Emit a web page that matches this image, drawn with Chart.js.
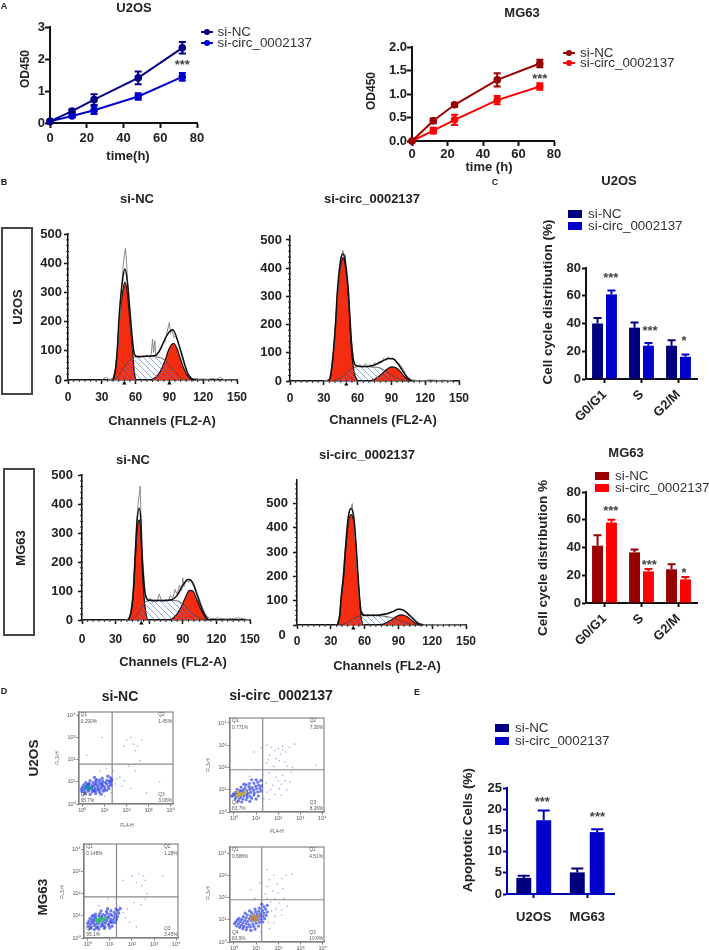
<!DOCTYPE html>
<html><head><meta charset="utf-8">
<script src="https://cdn.jsdelivr.net/npm/chart.js@4"></script>
<style>
html,body{margin:0;padding:0;background:#fff}
#page{position:relative;width:709px;height:950px;overflow:hidden;font-family:"Liberation Sans",Arial,sans-serif;color:#222;filter:blur(.3px)}
canvas{position:absolute}
.t{position:absolute;white-space:nowrap;line-height:1}
.box{position:absolute;border:2px solid #4a4444;box-sizing:border-box}
.sw{position:absolute}
</style></head><body><div id="page"></div>
<script>
// ---------- Panel A: growth curves ----------
const timeH=[0,12,24,48,72];
const aU2nc=[0.05,0.37,0.73,1.41,2.35], aU2ncErr=[0,0.06,0.17,0.2,0.18];
const aU2ci=[0.05,0.22,0.40,0.83,1.44], aU2ciErr=[0,0.03,0.12,0.1,0.12];
const aMGnc=[0,0.43,0.77,1.30,1.65], aMGncErr=[0,0.05,0.04,0.14,0.08];
const aMGci=[0,0.22,0.45,0.87,1.16], aMGciErr=[0,0.06,0.11,0.09,0.07];
const nameNC='si-NC', nameCI='si-circ_0002137';
// ---------- Panel B: cell-cycle histograms [channel,count] ----------
const b1G1=[[40,0],[42,30],[43.8,100],[45.5,200],[48.5,300],[50.5,335],[52.6,300],[55,200],[57.4,100],[58.5,40],[60,0]];
const b1S=[[40,0],[45,15],[50,45],[55,70],[58,78],[65,80],[75,80],[82,76],[87,65],[92,40],[97,20],[102,5],[105,0]];
const b1G2=[[73,0],[78,10],[82,30],[86,65],[89,100],[92,122],[94,125],[97,105],[100,70],[103,38],[106,15],[109,3],[112,0]];
const b1Tot=[[40,0],[42,32],[43.8,108],[45.5,225],[48.5,345],[50.5,380],[52.6,340],[55,235],[57.4,130],[59,88],[62,80],[72,82],[78,85],[82,105],[86,140],[90,165],[93,172],[96,150],[100,100],[103,60],[106,25],[109,8],[112,0]];
const b1Raw=[[30,0],[32,6],[34,9],[36,3],[38,2],[40,8],[42,40],[44,100],[46,210],[48,340],[49,390],[50,430],[51,452],[52,400],[53,330],[54,280],[55,240],[56,170],[57,135],[58,100],[60,78],[62,85],[64,75],[66,83],[68,80],[70,86],[72,78],[74,90],[75,140],[76,95],[77,135],[78,85],[80,95],[82,110],[84,125],[86,130],[88,165],[90,198],[91,160],[92,175],[94,145],[96,150],[98,125],[100,100],[102,80],[104,50],[106,25],[108,12],[110,5],[113,5],[116,3],[120,4],[124,2],[128,5],[132,3],[135,10],[138,2],[142,0],[150,0]];
const b2G1=[[34,0],[36,15],[38.5,100],[40.5,200],[42,300],[45,410],[47,437],[49,410],[51.8,300],[53.2,200],[54.7,100],[57,30],[60,0]];
const b2S=[[38,0],[44,8],[50,28],[55,45],[58,50],[65,51],[75,49],[80,46],[85,35],[90,22],[95,10],[100,3],[104,0]];
const b2G2=[[70,0],[75,6],[80,20],[85,38],[90,50],[94,47],[98,33],[102,14],[105,4],[108,0]];
const b2Tot=[[34,0],[36,16],[38.5,105],[40.5,210],[42,315],[45,430],[47,450],[49,425],[51.8,320],[53.2,225],[54.7,130],[57,62],[60,53],[65,51],[72,53],[78,62],[84,75],[88,80],[92,78],[96,60],[100,36],[104,12],[108,0]];
const b2Raw=[[30,0],[33,3],[35,8],[37,50],[39,120],[41,235],[43,345],[45,425],[46,450],[47,462],[48,445],[49,450],[50,390],[52,310],[54,170],[55,125],[56,90],[57,65],[58,60],[60,50],[62,58],[64,48],[66,55],[67,62],[69,50],[71,58],[73,52],[75,65],[77,60],[79,70],[81,64],[83,80],[85,72],[87,85],[89,78],[91,82],[93,72],[95,68],[97,60],[99,50],[101,38],[103,22],[105,12],[108,4],[112,2],[118,1],[125,4],[131,2],[137,3],[145,0]];
const b3G1=[[41.5,0],[44,30],[46,100],[47.5,200],[49,300],[51,345],[52.6,300],[53.5,200],[55,100],[57,25],[58.5,0]];
const b3S=[[44,0],[48,10],[52,35],[56,60],[58,66],[65,68],[75,68],[85,66],[90,55],[95,35],[100,18],[106,5],[112,0]];
const b3G2=[[78,0],[83,12],[88,40],[92,75],[96,102],[99,100],[102,75],[106,38],[110,10],[113,0]];
const b3Tot=[[41.5,0],[44,32],[46,110],[47.5,225],[49,335],[51,385],[52.6,340],[53.5,245],[55,140],[57,80],[60,68],[70,67],[80,70],[85,85],[90,120],[95,140],[99,128],[102,95],[106,50],[110,15],[113,0]];
const b3Raw=[[38,0],[41,3],[43,15],[45,70],[47,190],[49,340],[50,400],[51,430],[52,462],[53,290],[54,210],[55,170],[56,110],[57,85],[59,62],[61,75],[63,60],[65,68],[67,62],[69,90],[71,65],[73,62],[75,72],[77,66],[79,85],[81,75],[83,105],[85,88],[87,120],[89,100],[90,145],[91,115],[93,140],[95,130],[97,142],[99,120],[101,115],[103,90],[105,70],[107,48],[109,30],[111,15],[114,6],[118,5],[122,7],[128,4],[134,5],[140,7],[145,4],[150,1]];
const b4G1=[[36,0],[38,40],[39,100],[41.4,200],[43,300],[45.5,420],[48,455],[50.5,420],[52.6,300],[54,200],[55.6,100],[57,30],[58.5,0]];
const b4S=[[38,0],[44,8],[50,28],[55,37],[59,38],[70,38],[78,36],[84,30],[90,20],[96,10],[102,3],[106,0]];
const b4G2=[[74,0],[79,8],[84,22],[89,37],[93,42],[97,36],[101,22],[105,8],[109,0]];
const b4Tot=[[36,0],[38,42],[39,105],[41.4,210],[43,315],[45.5,445],[48,480],[50.5,440],[52.6,320],[54,215],[55.6,110],[57,52],[60,40],[70,40],[78,44],[85,55],[90,65],[94,62],[98,48],[103,25],[108,6],[112,0]];
const b4Raw=[[34,0],[36,5],[38,50],[40,150],[42,270],[44,380],[46,460],[47,475],[48,478],[49,500],[50,450],[51,390],[52,330],[53,250],[55,125],[57,60],[59,44],[61,40],[63,44],[65,39],[68,42],[71,38],[74,44],[77,47],[80,46],[83,52],[86,58],[89,62],[91,68],[93,62],[95,60],[97,55],[99,48],[102,35],[105,20],[108,8],[112,2],[118,1],[125,2],[135,1],[150,0]];
const chTicks=[0,30,60,90,120,150], countTicks=[0,100,200,300,400,500];
// ---------- Panel C: cell-cycle bars ----------
const phases=['G0/G1','S','G2/M'];
const cU2nc=[40,37,24], cU2ncTop=[44,40.7,28];
const cU2ci=[61,24,16], cU2ciTop=[63.7,26,17.7];
const cMGnc=[41.3,36.5,24.3], cMGncTop=[48.8,38.5,28];
const cMGci=[58,22.8,17], cMGciTop=[60,24.5,18.7];
// ---------- Panel E: apoptosis bars ----------
const cells=['U2OS','MG63'];
const eNC=[3.8,5.1], eNCtop=[4.3,6];
const eCI=[17.4,14.6], eCItop=[19.7,15.3];
// ---------- Panel D: flow cytometry events, [log10 FL4-H, log10 FL3-H] ----------
const d1Sparse=[[2.0,2.9],[2.3,2.7],[2.5,2.6],[2.2,3.0],[2.7,2.9],[2.4,2.4],[1.9,2.6],[0.9,3.0],[0.2,2.2],[2.6,1.95],[2.1,1.7],[2.4,1.5],[1.4,1.5],[1.7,1.2],[1.5,0.9],[1.8,0.8],[2.2,0.7],[1.3,0.5],[1.1,1.6],[0.8,1.5],[1.0,0.35],[2.9,0.5],[3.5,1.0],[1.55,1.15],[1.9,1.05],[1.2,1.3]];
const d1Dense=[[.1,.46],[.35,.43],[.6,.47],[.85,.44],[-.02,.56],[.12,.53],[.27,.58],[.44,.54],[.6,.57],[.78,.53],[.95,.58],[1.1,.62],[-.05,.66],[.05,.63],[.18,.67],[.3,.64],[.42,.68],[.55,.63],[.7,.66],[.85,.69],[1,.64],[1.2,.7],[0,.76],[.1,.73],[.22,.77],[.33,.74],[.46,.78],[.58,.73],[.72,.76],[.88,.79],[1.02,.74],[1.18,.8],[1.3,.85],[.06,.86],[.2,.84],[.3,.88],[.44,.83],[.56,.87],[.68,.84],[.82,.88],[.95,.83],[1.1,.9],[1.25,.94],[.15,.96],[.3,.93],[.48,.97],[.62,.94],[.76,.98],[.9,.93],[1.05,.97],[1.22,1.03],[1.33,1.1],[.35,1.06],[.6,1.04],[.78,1.08],[.92,1.03],[1.12,1.07],[1.28,1.18],[.55,1.2],[.9,1.16],[1.15,1.25],[1.3,1.02],[.5,.6],[.75,.62],[.25,.9],[.65,1.1]];
const d1Core=[[.2,.72],[.28,.78],[.35,.7],[.15,.78],[.42,.74],[.3,.66]];
const d2Sparse=[[2.3,2.9],[2.5,2.8],[2.6,2.6],[2.0,2.8],[1.6,2.6],[2.2,2.5],[2.45,2.35],[3.4,2.8],[2.7,2.0],[2.6,1.75],[2.4,1.5],[2.1,1.6],[1.8,1.3],[1.6,1.15],[1.7,0.9],[1.9,0.7],[2.2,0.5],[1.45,1.4],[1.3,0.4],[0.9,1.75],[0.5,1.45]];
const d2Dense=[[.1,.42],[.3,.38],[.5,.4],[.75,.43],[1,.45],[.02,.53],[.15,.5],[.3,.55],[.45,.5],[.6,.53],[.78,.5],[.95,.56],[1.1,.53],[.0,.66],[.12,.63],[.25,.67],[.38,.62],[.5,.66],[.65,.62],[.8,.67],[.95,.63],[1.12,.68],[1.25,.7],[.05,.76],[.18,.74],[.3,.78],[.42,.73],[.55,.77],[.7,.73],[.85,.78],[1,.74],[1.15,.8],[1.3,.83],[.1,.88],[.22,.85],[.35,.89],[.48,.84],[.6,.88],[.75,.84],[.9,.89],[1.05,.85],[1.2,.92],[1.35,.96],[.2,.98],[.35,.96],[.5,1],[.65,.95],[.8,1],[.95,.96],[1.1,1.02],[1.25,1.05],[1.4,1.12],[.35,1.08],[.55,1.1],[.7,1.06],[.88,1.11],[1.02,1.08],[1.2,1.16],[1.38,1.25],[.6,1.22],[.85,1.2],[1.05,1.23],[1.28,1.3],[1.48,1.33],[.9,1.32],[.4,.46],[.7,.56],[1.05,.72],[.25,1.02],[.58,.95]];
const d2Core=[[.4,.8],[.5,.86],[.6,.78],[.7,.86],[.55,.92],[.45,.72],[.65,.72],[.8,.9]];
const d3Sparse=[[1.5,3.0],[1.7,2.9],[2.0,2.85],[2.2,2.8],[2.5,2.9],[2.75,3.05],[1.6,2.55],[1.9,2.4],[2.1,2.6],[2.3,2.25],[1.45,2.2],[2.65,2.0],[3.7,2.1],[0.9,2.7],[1.25,2.9],[1.8,2.05],[2.4,2.05],[2.6,1.8],[2.2,1.65],[1.9,1.55],[1.6,1.75],[1.45,1.3],[1.75,1.2],[2.05,1.05],[2.3,1.4],[2.55,1.35],[1.5,.9],[1.85,.8],[2.15,.75],[2.4,1.0],[1.35,.6],[1.6,.55],[1.9,1.9],[2.15,1.25],[1.65,1.0],[2.0,1.4],[1.3,1.7],[1.55,2.35],[2.05,2.3],[2.35,2.7],[1.05,1.9],[.7,1.6],[2.2,2.95],[1.85,2.75]];
const d3Dense=[[-.05,.72],[.05,.58],[.2,.5],[.35,.45],[.55,.55],[.72,.48],[-.02,.82],[.1,.68],[.25,.62],[.4,.58],[.6,.66],[.8,.62],[1,.58],[.05,.78],[.18,.74],[.3,.7],[.45,.72],[.58,.76],[.72,.72],[.9,.76],[1.1,.72],[.08,.9],[.22,.85],[.35,.82],[.48,.88],[.62,.84],[.75,.88],[.92,.86],[1.08,.9],[1.22,.94],[.15,1.02],[.28,.96],[.42,1.0],[.58,.96],[.72,1.02],[.88,.98],[1.02,1.04],[1.18,1.06],[.32,1.12],[.5,1.08],[.68,1.14],[.82,1.1],[.98,1.16],[1.12,1.2],[1.25,1.18],[.45,1.25],[.7,1.28],[.9,1.3],[1.08,1.34],[1.22,1.42],[.8,1.45],[-.12,.72],[.12,.82],[.35,.92],[.55,1.22],[1.0,1.45]];
const d3Core=[[.12,.75],[.2,.82],[.28,.76],[.35,.85],[.22,.68],[.45,.8],[.52,.9],[.15,.9]];
const d4Sparse=[[2.6,3.05],[2.35,3.0],[2.15,2.85],[1.8,3.0],[1.5,3.25],[1.6,2.8],[1.95,2.6],[2.2,2.4],[1.75,2.3],[1.5,2.5],[2.0,2.2],[1.85,1.95],[2.25,1.95],[1.5,1.95],[1.15,2.65],[.75,2.35],[.95,1.95],[1.65,1.8],[2.05,1.75],[2.4,1.6],[2.15,1.45],[1.9,1.5],[1.7,1.4],[2.15,1.2],[1.85,1.15],[1.55,.9],[1.8,.85],[1.6,.6],[1.2,.45],[.85,.5],[1.4,2.15]];
const d4Dense=[[.02,.82],[.12,.72],[.25,.66],[.4,.6],[.55,.55],[.75,.52],[.95,.58],[.08,.9],[.2,.82],[.32,.75],[.45,.7],[.6,.66],[.75,.68],[.9,.7],[1.1,.72],[.15,.98],[.28,.92],[.4,.85],[.55,.82],[.68,.78],[.85,.82],[1,.85],[1.15,.88],[1.3,.9],[.22,1.06],[.35,1.02],[.48,.96],[.62,.93],[.78,.96],[.92,.98],[1.08,1.0],[1.22,1.02],[1.38,1.05],[.42,1.14],[.55,1.08],[.7,1.05],[.85,1.08],[1,1.12],[1.15,1.14],[1.3,1.16],[1.45,1.2],[.6,1.22],[.75,1.18],[.9,1.22],[1.05,1.24],[1.2,1.26],[1.35,1.3],[1.5,1.35],[.8,1.32],[.98,1.35],[1.12,1.38],[1.28,1.42],[1.42,1.48],[.95,1.48],[1.15,1.52],[1.35,1.58],[1.5,1.65],[1.25,1.7],[.7,1.4],[.5,1.3]];
const d4Core=[[.75,1.05],[.85,1.12],[.95,1.05],[1.05,1.1],[.9,1.18],[.8,.98],[1.1,1.18],[.98,.95]];
const dExpTicks=[0,1,2,3,4], dExpLabels=['10⁰','10¹','10²','10³','10⁴'];
const d1Q=['0.290%','1.45%','3.08%','95.7%'],d2Q=['0.148%','1.28%','3.45%','95.1%'],d3Q=['0.771%','7.26%','8.26%','83.7%'],d4Q=['0.688%','4.51%','10.9%','83.9%'];
const d1Gate=[1.35,1.8],d2Gate=[1.3,1.85],d3Gate=[1.3,1.9],d4Gate=[1.25,1.9];

// ---------- helpers ----------
const page=document.getElementById('page');
const FONT='"Liberation Sans",Arial,sans-serif';
const KEY=13.4;
Chart.defaults.font.family=FONT; Chart.defaults.color='#222';
Chart.defaults.animation=false; Chart.defaults.responsive=false;
Chart.defaults.plugins.legend.display=false; Chart.defaults.plugins.tooltip.enabled=false;
function T(s,x,y,o={}){const d=document.createElement('div');d.className='t';d.textContent=s;
 d.style.left=x+'px';d.style.top=y+'px';d.style.fontSize=(o.size||13)+'px';d.style.fontWeight=o.weight||'bold';
 if(o.color)d.style.color=o.color;
 const tx=o.ha==='l'?'0':'-50%';d.style.transform=`translate(${tx},-50%)`+(o.rot?` rotate(${o.rot}deg)`:'');
 page.appendChild(d);}
function box(x0,y0,x1,y1){const d=document.createElement('div');d.className='box';d.style.cssText+=`left:${x0}px;top:${y0}px;width:${x1-x0}px;height:${y1-y0}px`;page.appendChild(d);}
function swatch(x,y,w,h,c){const d=document.createElement('div');d.className='sw';d.style.cssText+=`left:${x}px;top:${y}px;width:${w}px;height:${h}px;background:${c}`;page.appendChild(d);}
function lineKey(x,y,c,name){swatch(x,y-1,12,2,c);const d=document.createElement('div');d.className='sw';d.style.cssText+=`left:${x+3}px;top:${y-3}px;width:6px;height:6px;border-radius:50%;background:${c}`;page.appendChild(d);T(name,x+17,y,{size:KEY,weight:'normal',ha:'l',color:'#333'});}
function barKey(x,y,c,name,tx){swatch(x,y-4,14,8,c);T(name,tx,y,{size:KEY,weight:'normal',ha:'l',color:'#333'});}
const M=60;
const fixY=s=>{s.width=M},fixX=s=>{s.height=M};
function mk(r,cfg,blur){const c=document.createElement('canvas');c.width=r[2]-r[0]+2*M;c.height=r[3]-r[1]+2*M;
 c.style.left=(r[0]-M)+'px';c.style.top=(r[1]-M)+'px';if(blur)c.style.filter=`blur(${blur}px)`;page.appendChild(c);
 cfg.options=cfg.options||{};cfg.options.devicePixelRatio=1;cfg.options.maintainAspectRatio=false;cfg.options.responsive=false;
 cfg.options.layout={padding:{top:M,right:M,left:0,bottom:0}};
 return new Chart(c,cfg);}
function axis(o){const a={type:o.type||'linear',min:o.min,max:o.max,position:o.pos,offset:!!o.offset,afterFit:o.pos==='left'?fixY:fixX,
 border:{display:true,color:o.color||'#111',width:o.bw||2},
 grid:{display:true,drawOnChartArea:false,drawTicks:true,tickLength:o.len||5,tickColor:o.color||'#111',tickWidth:o.tw||2,offset:false},
 ticks:{stepSize:o.step,includeBounds:false,autoSkip:false,padding:o.pad===undefined?2:o.pad,minRotation:o.rot||0,maxRotation:o.rot||0,color:o.tc||'#222',
  font:{size:o.size||13,weight:o.weight||'bold',family:FONT},callback:o.cb||(function(v){return this.getLabelForValue(v)})}};
 if(o.at)a.afterBuildTicks=s=>{s.ticks=o.at.map(v=>({value:v}))};
 return a;}
const errPlugin={id:'errs',afterDatasetsDraw(ch){const y=ch.scales.y,ctx=ch.ctx;
 ch.data.datasets.forEach((ds,i)=>{if(!ds.errUp&&!ds.errTop)return;const meta=ch.getDatasetMeta(i);
  ctx.save();ctx.strokeStyle=ds.errColor;ctx.lineWidth=ds.errW||2;
  meta.data.forEach((el,k)=>{let hi,lo;const v=typeof ds.data[k]==='object'?ds.data[k].y:ds.data[k];if(ds.errTop){hi=ds.errTop[k];lo=v}else{if(!ds.errUp[k])return;hi=v+ds.errUp[k];lo=v-ds.errUp[k]}
   const a=y.getPixelForValue(hi),b=y.getPixelForValue(lo),w=ds.capW||3;
   ctx.beginPath();ctx.moveTo(el.x,a);ctx.lineTo(el.x,b);ctx.moveTo(el.x-w,a);ctx.lineTo(el.x+w,a);
   if(!ds.errTop){ctx.moveTo(el.x-w,b);ctx.lineTo(el.x+w,b)}ctx.stroke();});ctx.restore();});}};
const starPlugin={id:'stars',afterDatasetsDraw(ch,a,opts){if(!opts.items)return;const ctx=ch.ctx;ctx.save();ctx.fillStyle='#444';ctx.font='bold 13px '+FONT;ctx.textAlign='center';ctx.textBaseline='middle';
 opts.items.forEach(s=>ctx.fillText(s[2],ch.scales.x.getPixelForValue(s[0]),ch.scales.y.getPixelForValue(s[1])+2));ctx.restore();}};
const minorPlugin={id:'minor',afterDraw(ch,a,opts){if(!opts.x)return;const c=ch.ctx,xs=ch.scales.x,ys=ch.scales.y,A=ch.chartArea;c.save();c.strokeStyle='#333';c.lineWidth=1;c.beginPath();
 for(let v=0;v<=150;v+=opts.x){const p=xs.getPixelForValue(v);c.moveTo(p,A.bottom-1);c.lineTo(p,A.bottom+2)}
 for(let v=0;v<=ys.max;v+=opts.y){const p=ys.getPixelForValue(v);c.moveTo(A.left+1,p);c.lineTo(A.left-2,p)}
 c.stroke();c.restore();}};
const framePlugin={id:'frame',afterDraw(ch,a,opts){if(!opts.on)return;const c=ch.ctx,A=ch.chartArea;c.save();c.strokeStyle='#888';c.lineWidth=1.2;c.strokeRect(A.left,A.top,A.right-A.left,A.bottom-A.top);c.restore();}};
Chart.register(errPlugin,starPlugin,minorPlugin,framePlugin);
const pts=a=>a.map(p=>({x:p[0],y:p[1]}));
const zip=(xs,ys)=>ys.map((v,i)=>({x:xs[i],y:v}));

// ---------- Panel A ----------
function growth(r,yMax,yStep,nc,ncE,ci,ciE,cNC,cCI,star,yCb,xPad,yPad){
 const ds=(d,e,c)=>({data:zip(timeH,d),borderColor:c,backgroundColor:c,borderWidth:2,pointRadius:2.8,pointBackgroundColor:c,tension:0,errUp:e,errColor:c,errW:2,capW:3.5,clip:false});
 mk(r,{type:'line',data:{datasets:[ds(nc,ncE,cNC),ds(ci,ciE,cCI)]},
 options:{plugins:{stars:{items:[[72,star,'***']]}},scales:{
  x:axis({pos:'bottom',min:0,max:80,step:20,pad:xPad,cb:v=>v}),
  y:axis({pos:'left',min:0,max:yMax,step:yStep,pad:yPad,cb:yCb||(v=>v)})}}});}
growth([50,27,197,123.5],3,1,aU2nc,aU2ncErr,aU2ci,aU2ciErr,'#00008b','#0000cd',1.85,null,3,0);
growth([412,46.5,554,140.5],2,.5,aMGnc,aMGncErr,aMGci,aMGciErr,'#990000','#ff0000',1.35,v=>v.toFixed(1),1,0);
T('U2OS',134,7);T('MG63',522,12);
T('OD450',25,69,{size:12,rot:-90});T('OD450',371,91,{size:12,rot:-90});
T('time(h)',128,155);T('time (h)',489,166);
lineKey(200.5,32,'#00008b',nameNC);lineKey(200.5,43,'#0000cd',nameCI);
lineKey(563,53,'#990000',nameNC);lineKey(563,63,'#ff0000',nameCI);

// ---------- Panel B ----------
function hatch(){const c=document.createElement('canvas');c.width=c.height=6;const g=c.getContext('2d');g.strokeStyle='rgba(95,125,235,.7)';g.lineWidth=1;
 g.beginPath();g.moveTo(-1,-1);g.lineTo(7,7);g.moveTo(-1,5);g.lineTo(1,7);g.moveTo(5,-1);g.lineTo(7,1);g.stroke();return g.createPattern(c,'repeat');}
function hist(r,yMax,G1,S,G2,Tot,Raw,marks,xPad,yPad,hideZero){
 const smooth={cubicInterpolationMode:'monotone',pointRadius:0,clip:false};
 mk(r,{type:'line',data:{datasets:[
  {data:pts(G1),order:5,fill:'origin',backgroundColor:'#f42d10',borderColor:'#111',borderWidth:1.2,...smooth},
  {data:pts(G2),order:5,fill:'origin',backgroundColor:'#f42d10',borderColor:'#111',borderWidth:1.2,...smooth},
  {data:pts(S),order:4,fill:'origin',backgroundColor:hatch(),borderColor:'#444',borderWidth:.8,...smooth},
  {data:pts(Raw),order:3,borderColor:'#8a8a8a',borderWidth:1,pointRadius:0,tension:0,clip:false},
  {data:pts(Tot),order:2,borderColor:'#111',borderWidth:1.5,...smooth},
  {data:marks.map(m=>({x:m,y:-yMax*0.022})),order:1,showLine:false,pointStyle:'triangle',pointRadius:2.5,pointBackgroundColor:'#000',pointBorderWidth:0,clip:false}
 ]},options:{plugins:{minor:{x:5,y:20}},scales:{
  x:axis({pos:'bottom',min:0,max:150,at:chTicks,pad:xPad,len:4,bw:1.5,tw:1.5,size:12,cb:v=>v}),
  y:axis({pos:'left',min:0,max:yMax,at:countTicks,pad:yPad,len:4,bw:1.5,tw:1.5,size:13,cb:v=>(hideZero&&v===0)?'':v})}}});}
hist([68,234,237,380],500,b1G1,b1S,b1G2,b1Tot,b1Raw,[50,90],6,2,false);
hist([290,236,459,381],514,b2G1,b2S,b2G2,b2Tot,b2Raw,[50],6,4,false);
hist([81.7,474.7,250,620.3],500,b3G1,b3S,b3G2,b3Tot,b3Raw,[53],8,5,false);
hist([296.7,480,465.7,625],597,b4G1,b4S,b4G2,b4Tot,b4Raw,[50],5,5,true);
T('0',282,634);
T(nameNC,137,198);T(nameCI,372,198);T(nameNC,133,459);T(nameCI,367,454);
T('Channels (FL2-A)',162,420);T('Channels (FL2-A)',383,419);T('Channels (FL2-A)',173,661);T('Channels (FL2-A)',387,665);
box(1,227,33,395);box(3,468,35,636);
T('U2OS',17,307,{rot:-90});T('MG63',20,548,{rot:-90});

// ---------- Panel C and E bars ----------
function bars(r,labels,a,aTop,b,bTop,cA,cB,yMax,step,stars,o){
 const ds=(d,t,c)=>({data:d,backgroundColor:c,errTop:t,errColor:c,errW:2,capW:o.cap,categoryPercentage:o.cat,barPercentage:o.bar});
 mk(r,{type:'bar',data:{labels,datasets:[ds(a,aTop,cA),ds(b,bTop,cB)]},options:{plugins:{stars:{items:stars}},scales:{
  x:axis({type:'category',pos:'bottom',offset:true,rot:o.rot,pad:o.xPad,size:o.xSize||13,color:o.axis,len:4}),
  y:axis({pos:'left',min:0,max:yMax,step,pad:1,size:o.ySize||13,color:o.axis,cb:v=>v,len:4})}}});}
bars([585.7,268,697,379.3],phases,cU2nc,cU2ncTop,cU2ci,cU2ciTop,'#00007f','#0000cd',80,20,[[.17,74.2,'***'],[1.23,35.4,'***'],[2.15,28.7,'*']],{cat:.753,bar:.786,cap:4,rot:45,xPad:4,axis:'#111'});
bars([585.7,491.7,696.7,602.7],phases,cMGnc,cMGncTop,cMGci,cMGciTop,'#990000','#ff0000',80,20,[[.17,67.3,'***'],[1.21,28.8,'***'],[2.15,22.8,'*']],{cat:.753,bar:.786,cap:4,rot:45,xPad:4,axis:'#111'});
bars([506.7,788.3,614,894.3],cells,eNC,eNCtop,eCI,eCItop,'#00007f','#0000cd',25,5,[[.16,22,'***'],[1.19,18.5,'***']],{cat:.745,bar:.75,cap:6,rot:0,xPad:12,axis:'#0000b0'});
T('U2OS',619,180);T('MG63',626,452);
T('Cell cycle distribution (%)',548,302,{size:13.5,rot:-90});T('Cell cycle distribution %',543,558,{size:13.5,rot:-90});
T('Apoptotic Cells (%)',468,830,{size:13.5,rot:-90});
barKey(568,213.5,'#00007f',nameNC,588);barKey(568,226,'#0000cd',nameCI,588);
barKey(595,476,'#990000',nameNC,615);barKey(595,488,'#ff0000',nameCI,615);
barKey(495,728,'#00007f',nameNC,515);barKey(495,741,'#0000cd',nameCI,515);

// ---------- Panel D ----------
function flow(r,sparse,dense,core,gate,q,xMin,coreCol){
 const xMax=xMin+(r[2]-r[0])/22.25,yMax=(r[3]-r[1])/22.25;
 const dot=(a,c,rad)=>({data:pts(a),pointRadius:rad,backgroundColor:c,pointBackgroundColor:c,pointBorderWidth:0,showLine:false});
 const ln=(a)=>({data:pts(a),showLine:true,borderColor:'#888',borderWidth:1.2,pointRadius:0,clip:false});
 mk(r,{type:'scatter',data:{datasets:[
  {...dot(core,coreCol,1.4),order:1},{...dot(dense,'rgba(50,70,230,.72)',1.6),order:2},{...dot(sparse,'rgba(130,140,235,.75)',.8),order:3},
  {...ln([[gate[0],0],[gate[0],yMax]]),order:4},{...ln([[xMin,gate[1]],[xMax,gate[1]]]),order:4}]},
  options:{plugins:{frame:{on:true}},scales:{
  x:axis({pos:'bottom',min:xMin,max:xMax,at:dExpTicks,color:'#777',bw:1.2,tw:1,len:2.5,size:5.5,weight:'normal',tc:'#555',pad:1,cb:v=>dExpLabels[v]}),
  y:axis({pos:'left',min:0,max:yMax,at:dExpTicks,color:'#777',bw:1.2,tw:1,len:2.5,size:5.5,weight:'normal',tc:'#555',pad:1,cb:v=>dExpLabels[v]})}}},.55);
 const s={size:4.8,weight:'normal',ha:'l',color:'#555'},L=r[0]+2,R=r[2]-15;
 T('Q1',L,r[1]+3,s);T(q[0],L,r[1]+10,s);T('Q2',R,r[1]+3,s);T(q[1],R,r[1]+10,s);
 T('Q4',L,r[3]-9,s);T(q[3],L,r[3]-3,s);T('Q3',R,r[3]-9,s);T(q[2],R,r[3]-3,s);
}
flow([78.7,711.7,173.3,804],d1Sparse,d1Dense,d1Core,d1Gate,d1Q,-.15,'#1f8fb0');
flow([84.3,844,179,938.3],d2Sparse,d2Dense,d2Core,d2Gate,d2Q,-.17,'#35c46a');
flow([230,717.7,324.7,811.7],d3Sparse,d3Dense,d3Core,d3Gate,d3Q,-.18,'#c9b035');
flow([230,846.7,324.3,941.7],d4Sparse,d4Dense,d4Core,d4Gate,d4Q,-.18,'#c98a35');
const small={size:4.8,weight:'normal',color:'#555'};
T('FL3-H',58,758,{...small,rot:-90});T('FL3-H',63,892,{...small,rot:-90});T('FL3-H',209,765,{...small,rot:-90});T('FL3-H',209,893,{...small,rot:-90});
T('FL4-H',127,826,small);T('FL4-H',277,832,small);
T(nameNC,120,696,{size:14});T(nameCI,281,695,{size:14});
T('U2OS',34,758,{size:13.5,rot:-90});T('MG63',43,897,{size:13.5,rot:-90});
// panel letters
T('A',4,6,{size:9});T('B',4,182,{size:9});T('C',495,182,{size:9});T('D',4,691,{size:9});T('E',417,692,{size:9});
</script></body></html>
